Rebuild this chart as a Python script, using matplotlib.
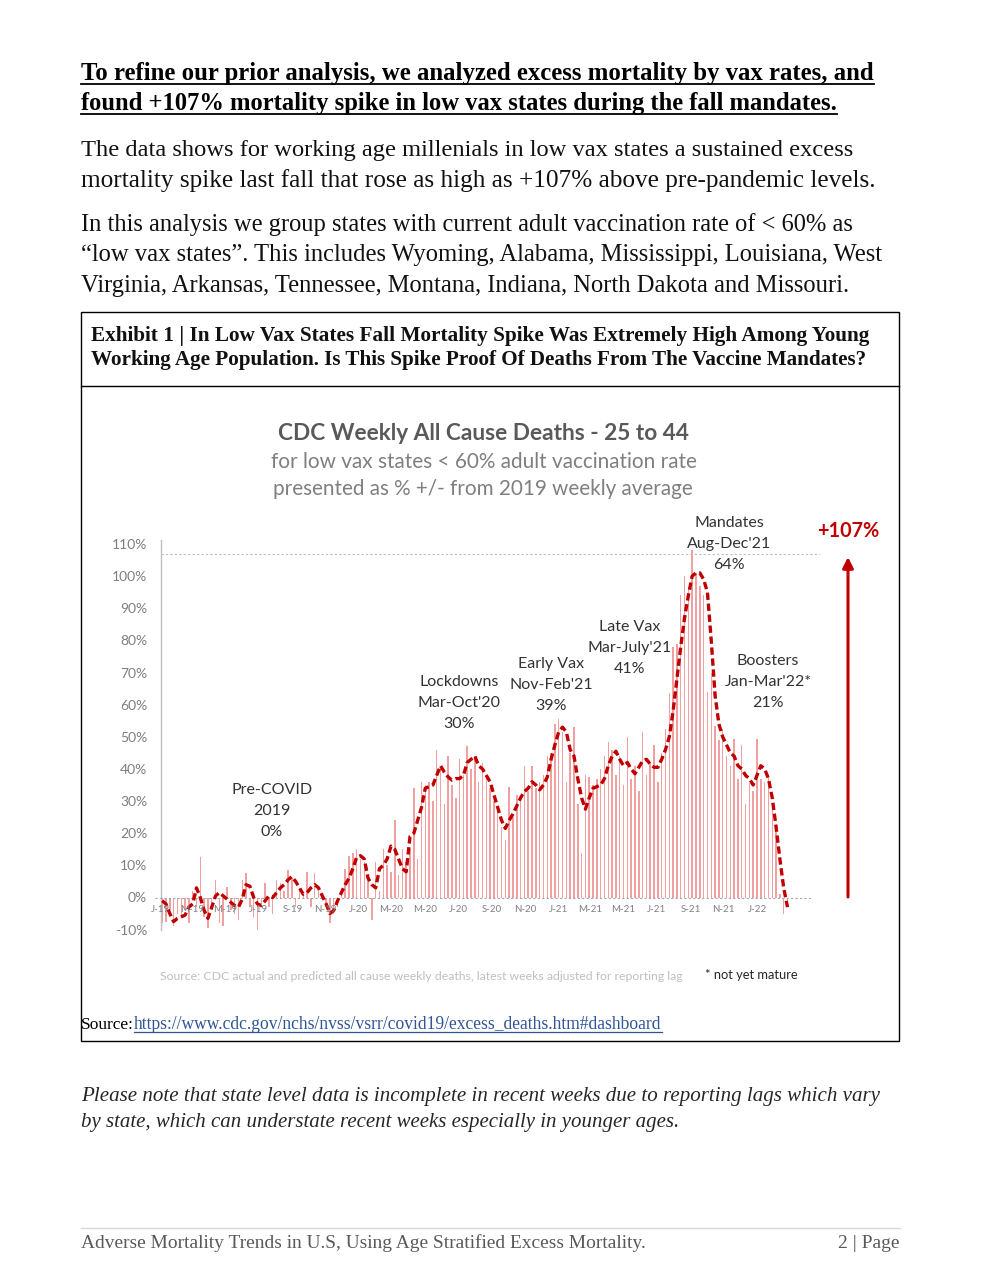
import pandas as pd
import matplotlib
matplotlib.use('Agg')
import matplotlib.pyplot as plt
import matplotlib.dates as mdates
from matplotlib.patches import Rectangle
from matplotlib.lines import Line2D

# STYLE
RED = '#c00000'
BAR_COLOR = '#f0a0a0'
GRAY = '#7f7f7f'
DARK = '#333333'
SERIF = 'Liberation Serif'
plt.rcParams['font.family'] = ['Lato', 'DejaVu Sans']

# DATA (% +/- vs 2019 weekly average, weekly from Jan 2019)
WEEK_START = '2019-01-05'
BARS = [-8, -7.5, -4, -9, -5, -6, -4, -8, 2, -3,
        12.5, -6, -9.5, -3, 5.6, -8, -9, 3.4, -4, -5,
        -7, 5.3, 7.5, -3, -6, -10, -3, 4.6, -3, -5,
        5.6, 4.6, 2, 8.6, 6, -3, 3, 1, 8, -3,
        7.5, 3, 0.5, -3, -8, -5, -3, 1, 9, 13,
        14, 15, 12, 11, 7, -7, 11, 2, 15, 10,
        8, 24, 7, 15, 11, 15, 34, 12, 36, 35,
        36, 30, 46, 40, 29, 44, 35, 31, 43, 38,
        47, 40, 44, 36, 42, 38, 34, 30, 28, 22,
        18, 34.5, 25, 32, 30, 41, 33, 41, 34, 36,
        38, 44, 45, 54, 55.6, 51.5, 36, 45, 53, 29,
        14, 38, 37.5, 35, 37, 40, 44, 48.5, 46, 38,
        44, 35, 49.8, 37, 41, 33, 51.6, 38, 42, 47.5,
        36, 45, 52.4, 63.6, 78, 79, 94, 100, 96, 108,
        101, 97, 94, 64, 70, 53.5, 49, 52.4, 44, 41,
        49.4, 37, 47.5, 29, 35.5, 33, 49.4, 37, 36, 38,
        29, 20.4, 1, -5, -2]
LINE = [-1, -2, -5, -7.5, -6.5, -6, -5.5, -3, -2, 3,
        0, -4, -6.5, -3, 0.5, 1.5, 0.5, -0.5, -1.5, -2.5,
        -3, -0.5, 4, 3.5, 0, -2, -2.5, -1, 0.5, 0,
        1.5, 3, 4, 5.5, 6.5, 5, 3, 1, 1.5, 3,
        4, 3, 0.5, -2, -5, -4, -1, 1.5, 4, 6,
        9, 12.5, 13, 12, 6, 4, 3, 9, 10, 12,
        16, 15, 12, 9, 8, 19, 20, 24, 28, 34,
        34.5, 35, 38, 41, 39, 37.5, 36.5, 37, 37, 38,
        42, 43, 44, 41, 40, 38, 36, 32, 28, 24,
        21.5, 24, 26, 28.5, 31, 33, 34, 36, 35, 33.5,
        35, 37.5, 43, 47.5, 51.5, 53, 51.5, 46, 44, 37,
        31, 27.5, 31, 34, 34.5, 35, 37, 41, 44, 45.5,
        43, 41, 42, 40, 38.5, 40.5, 42.5, 43, 41.5, 40.5,
        40.5, 43, 46, 50, 58, 68, 78, 87, 94, 100,
        101, 101, 99, 95, 80, 63, 54, 50, 47.5, 45,
        44, 41, 40, 38, 37, 35, 38, 41, 40, 37,
        31, 22, 12, 3, -3]
TICK_LABELS = ['J-19', 'M-19', 'M-19', 'J-19', 'S-19', 'N-19',
               'J-20', 'M-20', 'M-20', 'J-20', 'S-20', 'N-20',
               'J-21', 'M-21', 'M-21', 'J-21', 'S-21', 'N-21', 'J-22']
Y_TICKS = [-10, 0, 10, 20, 30, 40, 50, 60, 70, 80, 90, 100, 110]
PEAK = 107
PHASES = [  # (x, y of middle line, lines)
    (272, 811, ['Pre-COVID', '2019', '0%']),
    (459, 703, ['Lockdowns', "Mar-Oct'20", '30%']),
    (551, 685, ['Early Vax', "Nov-Feb'21", '39%']),
    (630, 648, ['Late Vax', "Mar-July'21", '41%']),
    (729, 544, ['Mandates', "Aug-Dec'21", '64%']),
    (768, 682, ['Boosters', "Jan-Mar'22*", '21%']),
]

W, H = 983, 1279
fig = plt.figure(figsize=(W / 100, H / 100), dpi=100)
fig.patch.set_facecolor('white')
renderer = fig.canvas.get_renderer()


def fx(x):
    return x / W


def fy(y):
    return 1 - y / H


def put(x, y, s, width=None, size=12, ha='left', va='baseline', **kw):
    t = fig.text(fx(x), fy(y), s, fontsize=size, ha=ha, va=va, **kw)
    if width:
        w = t.get_window_extent(renderer).width
        t.set_fontsize(size * width / w)
    return t


def underline(t, y, color, lw=1.3):
    bb = t.get_window_extent(renderer)
    fig.add_artist(Line2D([bb.x0 / W, bb.x1 / W], [fy(y), fy(y)], color=color, lw=lw))


# ---- page text ----
h1 = put(81, 80, 'To refine our prior analysis, we analyzed excess mortality by vax rates, and',
         785, family=SERIF, weight='bold', color='black')
h2 = put(81, 110, 'found +107% mortality spike in low vax states during the fall mandates.',
         754, family=SERIF, weight='bold', color='black')
underline(h1, 84, 'black')
underline(h2, 114, 'black')

body = [
    (156, 'The data shows for working age millenials in low vax states a sustained excess', 770),
    (187, 'mortality spike last fall that rose as high as +107% above pre-pandemic levels.', 796),
    (231, 'In this analysis we group states with current adult vaccination rate of < 60% as', 770),
    (261, '\u201clow vax states\u201d. This includes Wyoming, Alabama, Mississippi, Louisiana, West', 803),
    (292, 'Virginia, Arkansas, Tennessee, Montana, Indiana, North Dakota and Missouri.', 769),
]
for y, s, w in body:
    put(81, y, s, w, family=SERIF, color='#111111')

# exhibit box
fig.add_artist(Rectangle((fx(81), fy(1041)), (899 - 81) / W, (1041 - 312) / H,
                         transform=fig.transFigure, fill=False, ec='black', lw=1.0))
fig.add_artist(Line2D([fx(81), fx(899)], [fy(386), fy(386)], color='black', lw=1.0))
put(91, 341, 'Exhibit 1 | In Low Vax States Fall Mortality Spike Was Extremely High Among Young',
    776, family=SERIF, weight='bold', color='#111111')
put(91, 365, 'Working Age Population. Is This Spike Proof Of Deaths From The Vaccine Mandates?',
    775, family=SERIF, weight='bold', color='#111111')

src = put(81, 1029, 'Source:', 53, family=SERIF, color='black')
link = put(134, 1029, 'https://www.cdc.gov/nchs/nvss/vsrr/covid19/excess_deaths.htm#dashboard',
           528, family=SERIF, color='#2f5597')
underline(link, 1032, '#2f5597', lw=0.9)

put(81, 1101, 'Please note that state level data is incomplete in recent weeks due to reporting lags which vary',
    797, family=SERIF, style='italic', color='#262626')
put(81, 1127, 'by state, which can understate recent weeks especially in younger ages.',
    599, family=SERIF, style='italic', color='#262626')

fig.add_artist(Line2D([fx(81), fx(900)], [fy(1228), fy(1228)], color='#d9d9d9', lw=1.0))
put(81, 1248, 'Adverse Mortality Trends in U.S, Using Age Stratified Excess Mortality.',
    562, family=SERIF, color='#595959')
put(899, 1248, '2 | Page', 61, ha='right', family=SERIF, color='#595959')

# ---- chart ----
put(483, 433, 'CDC Weekly All Cause Deaths - 25 to 44', 410, va='center',
    ha='center', weight='bold', color='#595959')
put(484, 462, 'for low vax states < 60% adult vaccination rate', 425, va='center',
    ha='center', color=GRAY)
put(483, 489, 'presented as % +/- from 2019 weekly average', 418, va='center',
    ha='center', color=GRAY)

ax = fig.add_axes([fx(161), fy(930), (820 - 161) / W, (930 - 540) / H])
ax.set_facecolor('none')

PX_DAY = 0.5447
day0 = mdates.date2num(pd.Timestamp('2019-01-01'))
x = mdates.date2num(pd.date_range(WEEK_START, periods=len(BARS), freq='7D').to_pydatetime())

ax.set_xlim(day0 + 1 / PX_DAY, day0 + 660 / PX_DAY)
ax.set_ylim(-(930 - 897.5) / 3.214, (897.5 - 540) / 3.214)

ax.bar(x, BARS, width=2.7, color=BAR_COLOR, linewidth=0, zorder=2)
ax.plot(x, LINE, color=RED, lw=2.4, ls=(0, (2.2, 1.1)), dash_capstyle='butt', zorder=4)
ax.plot([day0 - 5 / PX_DAY, day0 + 652 / PX_DAY], [0, 0], color='#a6a6a6', lw=0.8,
        ls=(0, (2, 2)), clip_on=False, zorder=3)
ax.axhline(PEAK, color='#bfbfbf', lw=0.8, ls=(0, (2, 2)), zorder=1)

ax.set_yticks(Y_TICKS)
ax.set_yticklabels([f'{v}%' for v in Y_TICKS])
ax.tick_params(axis='y', length=0, pad=10, labelsize=10, labelcolor=GRAY)
ax.set_xticks([])
tick_x = mdates.date2num(pd.date_range('2019-01-01', '2022-01-01', freq='2MS').to_pydatetime())
for tx, lab in zip(tick_x, TICK_LABELS):
    ax.text(tx, -3.8, lab, ha='center', va='center', fontsize=7, color=GRAY, zorder=5)

for side in ['top', 'right', 'bottom']:
    ax.spines[side].set_visible(False)
ax.spines['left'].set_color('#bfbfbf')
ax.spines['left'].set_linewidth(1.0)

for cx, cy, lines in PHASES:
    for k, s in enumerate(lines):
        put(cx, cy + (k - 1) * 21, s, size=11.5, ha='center', va='center', color=DARK)

put(848, 531, f'+{PEAK}%', 62, ha='center', va='center', weight='bold', color=RED)
ax.annotate('', xy=(fx(848), fy(557)), xytext=(fx(848), fy(897)),
            xycoords='figure fraction', textcoords='figure fraction',
            arrowprops=dict(arrowstyle='-|>', color=RED, lw=2.2, mutation_scale=16,
                            shrinkA=0, shrinkB=0),
            annotation_clip=False)

put(160, 976, 'Source: CDC actual and predicted all cause weekly deaths, latest weeks adjusted for reporting lag',
    522, va='center', color='#bfbfbf')
put(705, 975, '* not yet mature', 93, va='center', color='#262626')

plt.savefig('out.png', dpi=100)
